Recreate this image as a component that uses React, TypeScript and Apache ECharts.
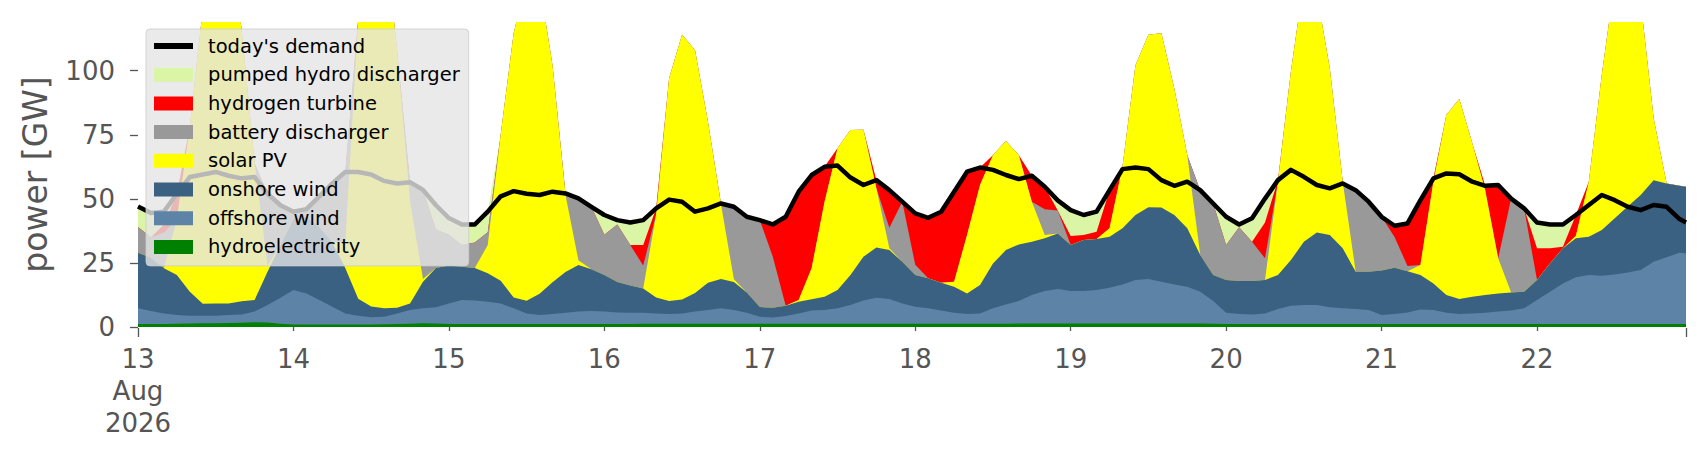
import { useEffect, useRef } from 'react'
import * as echarts from 'echarts'

// hours since 13 Aug 2026 00:00, sampled every 2 h (last sample 22 Aug 23:00)
const hours = [...Array.from({ length: 120 }, (_, i) => i * 2), 239]

const dayTicks = [0, 24, 48, 72, 96, 120, 144, 168, 192, 216]
const dayLabels = ['13\nAug\n2026', '14', '15', '16', '17', '18', '19', '20', '21', '22']
const majorTicks = [0, 239]
const yTicks = [0, 25, 50, 75, 100]

// GW, one row of 12 values per day
const hydro = [
  1.2, 1.2, 1.2, 1.3, 1.4, 1.5, 1.5, 1.6, 1.7, 1.9, 1.8, 1.3,
  1.0, 1.0, 1.0, 1.0, 1.0, 1.0, 1.0, 1.1, 1.2, 1.3, 1.5, 1.4,
  1.2, 1.2, 1.2, 1.2, 1.2, 1.2, 1.2, 1.2, 1.2, 1.2, 1.2, 1.2,
  1.2, 1.2, 1.2, 1.3, 1.3, 1.3, 1.3, 1.3, 1.3, 1.3, 1.3, 1.3,
  1.3, 1.3, 1.3, 1.3, 1.3, 1.3, 1.3, 1.3, 1.3, 1.3, 1.3, 1.3,
  1.3, 1.3, 1.3, 1.3, 1.3, 1.3, 1.3, 1.3, 1.4, 1.4, 1.4, 1.4,
  1.4, 1.4, 1.4, 1.4, 1.4, 1.4, 1.4, 1.4, 1.4, 1.4, 1.4, 1.3,
  1.2, 1.2, 1.2, 1.2, 1.2, 1.2, 1.2, 1.2, 1.2, 1.2, 1.2, 1.2,
  1.2, 1.2, 1.2, 1.2, 1.2, 1.2, 1.2, 1.2, 1.2, 1.2, 1.2, 1.2,
  1.2, 1.2, 1.2, 1.2, 1.2, 1.2, 1.2, 1.2, 1.2, 1.2, 1.2, 1.2, 1.2,
]

const offshore = [
  6.1, 5.0, 4.1, 3.4, 3.0, 2.9, 2.9, 3.1, 3.2, 4.1, 6.8, 10.1,
  13.4, 12.1, 9.5, 6.9, 4.3, 3.4, 2.8, 2.9, 4.1, 5.3, 5.8, 6.3,
  8.0, 9.3, 9.1, 8.7, 8.0, 6.1, 4.1, 3.5, 3.9, 4.4, 4.8, 5.0,
  4.8, 4.5, 4.4, 4.3, 4.0, 3.8, 4.0, 4.7, 5.3, 6.0, 5.3, 4.3,
  2.7, 2.4, 3.0, 4.0, 5.1, 5.3, 6.0, 7.3, 9.0, 10.1, 9.6, 7.9,
  6.6, 6.0, 5.1, 4.3, 3.8, 4.0, 6.0, 7.5, 8.7, 11.1, 12.6, 13.4,
  12.6, 12.6, 13.0, 13.9, 15.2, 16.9, 17.3, 16.3, 15.2, 14.3, 12.4, 8.8,
  4.4, 3.9, 3.7, 4.1, 5.8, 7.1, 7.4, 7.4, 6.5, 6.1, 5.8, 5.4,
  3.5, 3.9, 4.5, 5.6, 5.4, 4.4, 3.9, 4.1, 4.4, 4.8, 5.2, 6.1,
  9.3, 12.6, 15.8, 18.2, 19.1, 18.8, 19.3, 20.1, 21.0, 24.3, 26.0, 27.8, 27.5,
]

const onshore = [
  21.7, 20.8, 17.6, 15.6, 9.4, 4.7, 4.8, 4.5, 5.1, 4.5, 13.0, 20.6,
  27.6, 29.9, 28.5, 25.1, 17.7, 6.6, 4.2, 3.3, 2.2, 2.6, 10.4, 15.3,
  14.8, 13.0, 12.7, 11.1, 8.8, 4.2, 4.9, 8.3, 12.4, 15.9, 18.2, 16.3,
  14.3, 11.9, 10.6, 9.4, 6.2, 5.0, 5.4, 7.3, 10.7, 11.4, 11.0, 7.9,
  3.8, 3.8, 4.0, 4.6, 4.4, 5.2, 7.1, 11.7, 17.1, 19.6, 19.1, 16.3,
  12.4, 11.7, 10.9, 10.1, 8.0, 11.1, 17.5, 21.2, 22.1, 20.8, 20.6, 21.7,
  18.0, 19.9, 19.9, 19.9, 21.9, 25.4, 28.0, 28.9, 27.1, 22.8, 14.3, 10.2,
  12.7, 12.8, 13.0, 13.0, 13.3, 17.8, 24.7, 28.3, 28.2, 23.4, 14.6, 15.0,
  17.3, 18.0, 16.1, 13.5, 10.4, 6.9, 5.8, 6.5, 6.9, 7.1, 7.1, 6.5,
  7.8, 11.0, 13.7, 15.2, 14.9, 17.8, 21.9, 25.7, 29.3, 31.8, 28.8, 26.1, 26.0,
]

const solar = [
  0, 0, 0, 21.7, 64.2, 114.9, 140.8, 145.8, 106, 53.5, 2.4, 0,
  0, 0, 0, 0, 10, 109, 142, 147.7, 100.5, 39.8, 1, 0,
  0, 0, 0, 11, 57, 103, 125.8, 121, 84.5, 30, 1.8, 0,
  0, 0, 0, 0, 32.5, 86.9, 103.3, 94.7, 62.7, 29.3, 1, 0,
  0, 0, 0, 0.6, 12.1, 37.1, 55.3, 56.6, 49.6, 23.1, 0.7, 0,
  0, 0, 0, 2, 22.8, 39, 42.2, 42.6, 34.8, 15.6, 1.3, 0,
  0, 0, 0, 3.3, 24, 58.3, 67.3, 68, 49.3, 28.5, 0, 0,
  0, 0, 0, 0, 36.4, 73.5, 101.7, 93.1, 65.1, 26, 0, 0,
  0, 0, 0, 3.9, 39.7, 70.2, 78.1, 59.9, 40.9, 13.7, 0, 0,
  0, 0, 0, 1, 21.5, 60.5, 92.6, 93, 75.5, 24.1, 0, 0, 0,
]

const battery = [
  10, 8, 14, 0, 0, 0, 0, 0, 0, 0, 28, 15.5,
  3, 3, 12, 23, 27.5, 0, 0, 0, 0, 7.5, 34.8, 15,
  12, 8.5, 10, 5, 0, 0, 0, 0, 0, 0.6, 24.2, 24.4,
  15.7, 22.4, 15.8, 9, 0, 0, 0, 0, 0, 0.2, 28.3, 29.5,
  33.9, 20, 0, 0, 0, 0, 0, 0, 0, 0, 8, 23.4,
  4, 0, 0, 0, 0, 0, 0, 0, 0, 0, 10, 9,
  0, 0, 0, 0, 0, 0, 0, 0, 0, 0, 25.3, 27.9,
  13.7, 21, 15.4, 8.5, 0, 0, 0, 0, 0, 0, 31.8, 27.3,
  21, 12, 2, 0, 0, 0, 0, 0, 0, 0, 36.6, 32.5,
  0, 0, 0, 0, 0, 0, 0, 0, 0, 0, 0, 0, 0,
]

const hydrogen = [
  0, 0, 3, 10, 0, 0, 0, 0, 0, 0, 0, 0,
  0, 0, 0, 0, 0, 0, 0, 0, 0, 0, 0, 0,
  0, 0, 0, 0, 0, 0, 0, 0, 0, 0, 0, 0,
  0, 0, 0, 8, 2.3, 0, 0, 0, 0, 0, 0, 0,
  0, 12.5, 34.7, 42.3, 36.4, 13.6, 0, 0, 0, 3.2, 14.7, 0,
  20, 23.6, 27.7, 35.1, 24.7, 6.8, 0, 0, 0, 10.1, 8.8, 0,
  3.5, 2, 2.9, 14.9, 0, 0, 0, 0, 0, 0, 0, 0,
  0, 0, 0, 14, 0.6, 0, 0, 0, 0, 0, 0, 0,
  0, 4.4, 16.6, 25.3, 1.3, 0, 0, 0, 1.7, 28.6, 0, 0,
  12.4, 5.9, 0.6, 8.1, 0, 0, 0, 0, 0, 0, 0, 0, 0,
]

const pumpedHydro = [
  8, 9.5, 5.1, 0, 0, 0, 0, 0, 0, 0, 0, 0,
  0, 0, 0, 0, 0, 0, 0, 0, 0, 0, 0, 9.5,
  6.5, 8, 7, 8, 0, 0, 0, 0, 0, 0, 0, 0,
  7.7, 1.7, 8.8, 9.7, 0, 0, 0, 0, 0, 0, 0, 0,
  0, 0, 0, 0, 0, 0, 0, 0, 0, 0, 0, 0,
  0, 0, 0, 0, 0, 0, 0, 0, 0, 0, 0, 3.9,
  10.1, 7.8, 7.8, 0, 0, 0, 0, 0, 0, 0, 0, 0,
  11, 1.1, 9.1, 9.3, 0, 0, 0, 0, 0, 0, 0, 0,
  0, 0, 0, 0, 0, 0, 0, 0, 0, 0, 0, 0,
  10.1, 9.3, 8.7, 0, 0, 0, 0, 0, 0, 0, 0, 0, 0,
]

const demand = [
  47, 44.5, 45, 52, 58.5, 59.5, 60.5, 59, 58, 58.5, 52, 47.5,
  45, 46, 51, 56, 60.5, 60.5, 59.5, 57, 56, 56.5, 53.5, 47.5,
  42.5, 40, 40, 45, 51, 53, 52, 51.5, 52.8, 52.1, 50.2, 46.9,
  43.7, 41.7, 40.8, 41.7, 46.3, 49.7, 48.9, 45, 46.3, 48.2, 46.9, 43,
  41.7, 40, 43, 52.8, 59.3, 62.5, 63, 58.3, 55.4, 57.3, 53.4, 48.9,
  44.3, 42.6, 45, 52.8, 60.6, 62.2, 61.3, 59.3, 57.7, 59, 54.7, 49.4,
  45.6, 43.7, 45, 53.4, 61.6, 62.2, 61.6, 57.3, 55.1, 56.7, 53.4, 48.2,
  43, 40, 42.4, 50.1, 57.3, 61.3, 58.6, 55.4, 54.1, 56, 53.4, 48.9,
  43, 39.5, 40.4, 49.5, 58, 59.9, 59.6, 56.7, 55.1, 55.4, 50.1, 46.3,
  40.8, 40, 40, 43.7, 47.6, 51.5, 49.5, 46.9, 45.6, 47.6, 46.9, 42.1, 40.8,
]

// bottom to top of the stack
const stackSeries = [
  { name: 'hydroelectricity', values: hydro, color: '#008000' },
  { name: 'offshore wind', values: offshore, color: '#5d84a6' },
  { name: 'onshore wind', values: onshore, color: '#3b6182' },
  { name: 'solar PV', values: solar, color: '#ffff00' },
  { name: 'battery discharger', values: battery, color: '#999999' },
  { name: 'hydrogen turbine', values: hydrogen, color: '#ff0000' },
  { name: 'pumped hydro discharger', values: pumpedHydro, color: '#daf5a6' },
]

const FONT = 'DejaVu Sans'
const TICK_COLOR = '#555'

export default function App() {
  const chartRef = useRef<HTMLDivElement>(null)

  useEffect(() => {
    if (!chartRef.current) return
    const chart = echarts.init(chartRef.current, null, { renderer: 'svg' })

    // running totals: each area is filled down to zero and the lower layers are
    // painted over it, which gives the same picture as a stackplot
    const running = hours.map(() => 0)
    const layers = stackSeries.map((s) => {
      const tops = s.values.map((v, i) => (running[i] += v))
      return { ...s, tops }
    })

    const series: any[] = layers
      .slice()
      .reverse()
      .map((s) => ({
        name: s.name,
        type: 'line',
        symbol: 'none',
        smooth: false,
        data: hours.map((h, i) => [h, +s.tops[i].toFixed(2)]),
        lineStyle: { width: 0 },
        itemStyle: { color: s.color },
        areaStyle: { color: s.color, opacity: 1, origin: 'start' },
        emphasis: { disabled: true },
        z: 2,
      }))

    series.push({
      name: "today's demand",
      type: 'line',
      symbol: 'none',
      data: hours.map((h, i) => [h, demand[i]]),
      lineStyle: { color: '#000', width: 4.5, join: 'round' },
      itemStyle: { color: '#000' },
      emphasis: { disabled: true },
      z: 3,
    })

    const legendNames = ["today's demand", ...stackSeries.map((s) => s.name).reverse()]

    const baseX = {
      type: 'value',
      min: 0,
      max: 239,
      interval: 24,
      axisLine: { show: false },
      splitLine: { show: false },
    }

    chart.setOption({
      animation: false,
      textStyle: { fontFamily: FONT },
      grid: { left: 138, right: 20, top: 22, bottom: 133, containLabel: false, outerBoundsMode: 'none' },
      legend: {
        orient: 'vertical',
        left: 146,
        top: 29,
        padding: [7, 9, 9, 8],
        itemWidth: 39,
        itemHeight: 14,
        itemGap: 8.7,
        icon: 'rect',
        symbolKeepAspect: true,
        backgroundColor: 'rgba(229,229,229,0.8)',
        borderColor: 'rgba(204,204,204,0.8)',
        borderWidth: 1,
        borderRadius: 4,
        selectedMode: false,
        data: legendNames.map((n) =>
          n === "today's demand" ? { name: n, icon: 'path://M0,0L40,0L40,6L0,6Z' } : { name: n }
        ),
        textStyle: { fontFamily: FONT, fontSize: 19.5, color: '#000', lineHeight: 20, padding: [0, 0, 0, 10] },
      },
      xAxis: [
        {
          ...baseX,
          offset: 3,
          axisTick: {
            show: true,
            length: 4,
            customValues: dayTicks.slice(1),
            lineStyle: { color: TICK_COLOR, width: 1.3 },
          },
          axisLabel: {
            customValues: dayTicks,
            formatter: (v: number) => dayLabels[Math.round(v / 24)] ?? '',
            color: TICK_COLOR,
            fontFamily: FONT,
            fontSize: 26,
            lineHeight: 32,
            margin: 13,
          },
        },
        {
          ...baseX,
          position: 'bottom',
          offset: 1,
          axisTick: {
            show: true,
            length: 9,
            customValues: majorTicks,
            lineStyle: { color: TICK_COLOR, width: 1.3 },
          },
          axisLabel: { show: false },
        },
      ],
      yAxis: {
        type: 'value',
        min: 0,
        max: 119,
        interval: 25,
        offset: 2,
        name: 'power [GW]',
        nameLocation: 'middle',
        nameGap: 84,
        nameTextStyle: { color: TICK_COLOR, fontFamily: FONT, fontSize: 33 },
        axisLine: { show: false },
        splitLine: { show: false },
        axisTick: { show: true, length: 8, customValues: yTicks, lineStyle: { color: TICK_COLOR, width: 1.3 } },
        axisLabel: {
          customValues: yTicks,
          color: TICK_COLOR,
          fontFamily: FONT,
          fontSize: 26,
          margin: 21,
        },
      },
      series,
    })

    return () => {
      chart.dispose()
    }
  }, [])

  return (
    <div
      ref={chartRef}
      style={{ position: 'fixed', left: 0, top: 0, width: '1706px', height: '460px', background: '#fff' }}
    />
  )
}
